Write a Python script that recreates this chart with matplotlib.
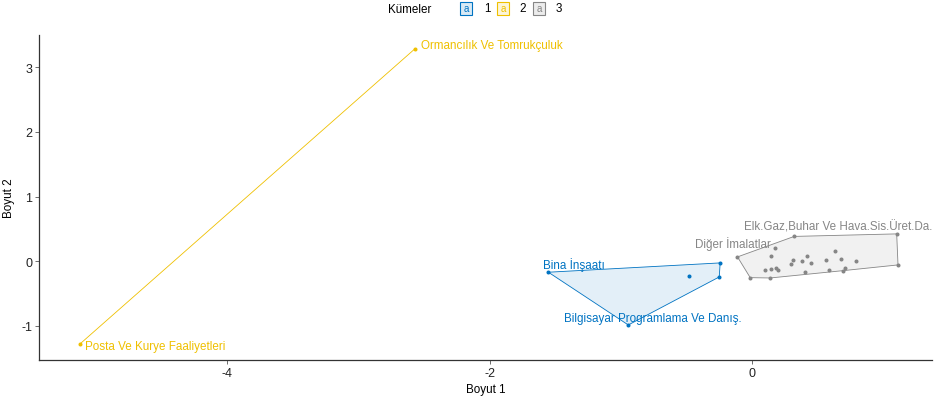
import numpy as np
import matplotlib
matplotlib.use("Agg")
import matplotlib.pyplot as plt
from matplotlib.patches import Polygon, Rectangle

plt.rcParams["font.family"] = ["Liberation Sans", "DejaVu Sans"]

# ---------------------------------------------------------------- data
dim1 = [-1.553, -0.244, -0.251, -0.479, -0.944,
        -5.122, -2.570,
        -0.112, -0.015, 0.137, 1.111, 1.101, 0.320,
        0.175, 0.142, 0.097, 0.142, 0.180, 0.200, 0.295, 0.314, 0.378,
        0.421, 0.451, 0.403, 0.634, 0.566, 0.680, 0.789, 0.588, 0.705, 0.690]
dim2 = [-0.170, -0.026, -0.243, -0.228, -0.986,
        -1.280, 3.286,
        0.067, -0.254, -0.259, -0.057, 0.423, 0.384,
        0.211, 0.087, -0.130, -0.115, -0.099, -0.139, -0.046, 0.015, 0.000,
        0.077, -0.022, -0.166, 0.155, 0.015, 0.040, 0.005, -0.130, -0.099, -0.146]
cluster = [1, 1, 1, 1, 1,
           2, 2,
           3, 3, 3, 3, 3, 3,
           3, 3, 3, 3, 3, 3, 3, 3, 3, 3, 3, 3, 3, 3, 3, 3, 3, 3, 3]
names = ["Bina İnşaatı", "", "", "", "Bilgisayar Programlama Ve Danış.",
         "Posta Ve Kurye Faaliyetleri", "Ormancılık Ve Tomrukçuluk",
         "Diğer İmalatlar", "", "", "", "Elk.Gaz,Buhar Ve Hava.Sis.Üret.Da.", ""] + [""] * 19

cluster_ids = [1, 2, 3]
palette = {1: "#0073C2", 2: "#EFC000", 3: "#868686"}

# label placement: (dx px, dy px, ha)
label_offsets = {
    "Bina İnşaatı": (-5, 8.6, "left"),
    "Bilgisayar Programlama Ve Danış.": (25, 7, "center"),
    "Posta Ve Kurye Faaliyetleri": (5, -2, "left"),
    "Ormancılık Ve Tomrukçuluk": (6, 4, "left"),
    "Diğer İmalatlar": (33.4, 13.7, "right"),
    "Elk.Gaz,Buhar Ve Hava.Sis.Üret.Da.": (35.3, 7.7, "right"),
}

W, H = 937, 402


def convex_hull(pts):
    """Andrew's monotone chain; returns hull vertices in order."""
    pts = sorted(set(map(tuple, pts)))
    if len(pts) <= 2:
        return np.array(pts)

    def cross(o, a, b):
        return (a[0] - o[0]) * (b[1] - o[1]) - (a[1] - o[1]) * (b[0] - o[0])

    lower, upper = [], []
    for p in pts:
        while len(lower) >= 2 and cross(lower[-2], lower[-1], p) <= 0:
            lower.pop()
        lower.append(p)
    for p in reversed(pts):
        while len(upper) >= 2 and cross(upper[-2], upper[-1], p) <= 0:
            upper.pop()
        upper.append(p)
    return np.array(lower[:-1] + upper[:-1])


x = np.array(dim1)
y = np.array(dim2)
cl = np.array(cluster)

fig = plt.figure(figsize=(W / 100, H / 100), dpi=100)
ax = fig.add_axes([39 / W, 41 / H, 893 / W, 325 / H])

for k in cluster_ids:
    m = cl == k
    c = palette[k]
    hull = convex_hull(np.column_stack([x[m], y[m]]))
    ax.add_patch(Polygon(hull, closed=True, facecolor=c, alpha=0.11,
                         edgecolor="none", zorder=1))
    ax.add_patch(Polygon(hull, closed=True, facecolor="none",
                         edgecolor=c, linewidth=0.6, zorder=2))
    ax.plot(x[m], y[m], "o", color=c, markersize=1.9, zorder=3)

for xi, yi, n, k in zip(x, y, names, cl):
    if not n:
        continue
    dx, dy, ha = label_offsets[n]
    ax.annotate(n, (xi, yi), xytext=(dx * 0.72, dy * 0.72),
                textcoords="offset points", ha=ha, va="center",
                color=palette[k], fontsize=8.4, zorder=4)

ax.set_xlim(-5.434, 1.37)
ax.set_ylim(-1.528, 3.50)
ax.set_xticks([-4, -2, 0])
ax.set_xticklabels(["-4", "-2", "0"])
ax.set_yticks([-1, 0, 1, 2, 3])
ax.set_yticklabels(["-1", "0", "1", "2", "3"])
for s in ["top", "right"]:
    ax.spines[s].set_visible(False)
for s in ["left", "bottom"]:
    ax.spines[s].set_linewidth(0.9)
    ax.spines[s].set_color("#333333")
ax.tick_params(length=3, width=0.6, color="#555555", labelsize=9,
               labelcolor="#222222", pad=2)
ax.set_xlabel("Boyut 1", fontsize=8.4, labelpad=3)
ax.set_ylabel("Boyut 2", fontsize=8.4, labelpad=4)

# legend along the top
fig.text(388 / W, 1 - 10 / H, "Kümeler", fontsize=8.4, ha="left", va="center")
key_left = [460, 497, 533]
key_text = [487, 523, 559]
for k, kl, kt in zip(cluster_ids, key_left, key_text):
    c = palette[k]
    fig.add_artist(Rectangle((kl / W, 1 - 16 / H), 12 / W, 13 / H,
                             transform=fig.transFigure, facecolor=c,
                             alpha=0.15, edgecolor="none"))
    fig.add_artist(Rectangle((kl / W, 1 - 16 / H), 12 / W, 13 / H,
                             transform=fig.transFigure, facecolor="none",
                             edgecolor=c, linewidth=0.8))
    fig.text((kl + 6) / W, 1 - 9.5 / H, "a", color=c, fontsize=7,
             ha="center", va="center")
    fig.text(kt / W, 1 - 9.5 / H, str(k), fontsize=8.4, ha="center",
             va="center")

fig.savefig("out.png", dpi=100)
